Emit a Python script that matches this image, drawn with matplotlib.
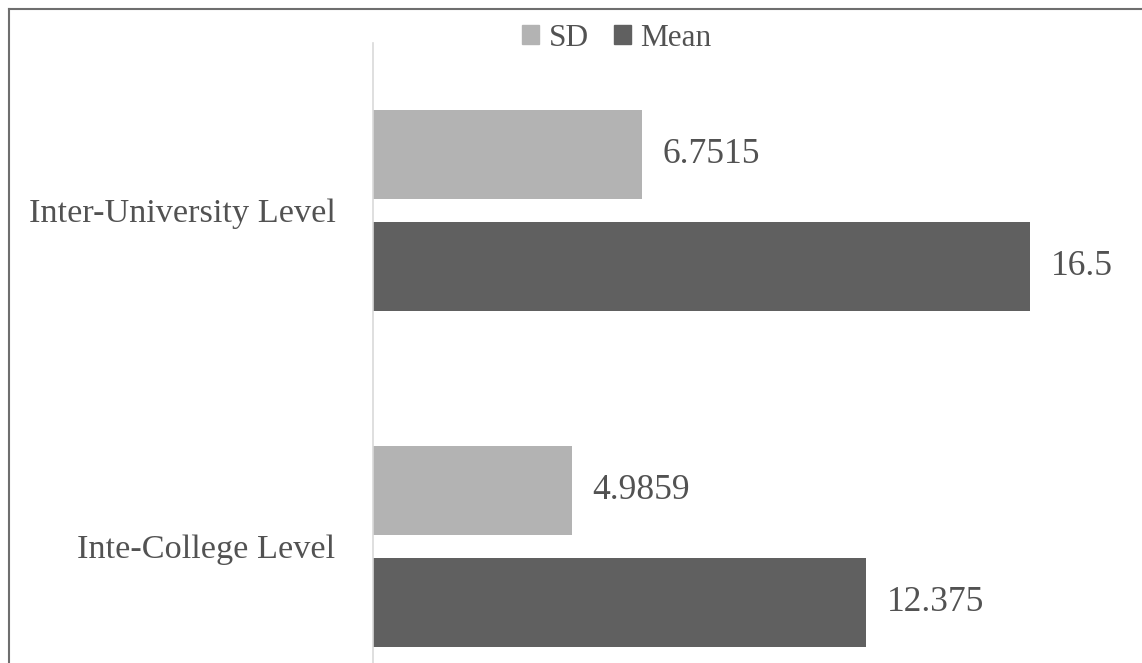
import matplotlib.pyplot as plt
from matplotlib.lines import Line2D
from matplotlib.patches import Patch

# data
categories = ['Inte-College Level', 'Inter-University Level']
sd_values = [4.9859, 6.7515]
mean_values = [12.375, 16.5]
sd_labels = ['4.9859', '6.7515']
mean_labels = ['12.375', '16.5']

sd_color = '#b3b3b3'
mean_color = '#606060'
text_color = '#525252'

plt.rcParams['font.family'] = ['Liberation Serif', 'DejaVu Serif']

W, H = 1142, 663
fig = plt.figure(figsize=(W / 100, H / 100), dpi=100)

# plot area (bottom part is cut off like in the source image)
left = 373 / W
top = 1 - 42.5 / H
height = 672 / H
ax = fig.add_axes([left, top - height, 1 - left, height])

ypos = list(range(len(categories)))
off = 0.1667
bh = 0.264
sd_y = [y + off for y in ypos]
mean_y = [y - off for y in ypos]

ax.barh(sd_y, sd_values, height=bh, color=sd_color, linewidth=0)
ax.barh(mean_y, mean_values, height=bh, color=mean_color, linewidth=0)

for v, y, lab in zip(sd_values, sd_y, sd_labels):
    ax.annotate(lab, (v, y), xytext=(15, 0), textcoords='offset points',
                ha='left', va='center', fontsize=25.5, color=text_color)
for v, y, lab in zip(mean_values, mean_y, mean_labels):
    ax.annotate(lab, (v, y), xytext=(15, 0), textcoords='offset points',
                ha='left', va='center', fontsize=25.5, color=text_color)

ax.set_xlim(0, (W - 373) / 39.82)
ax.set_ylim(-0.5, 1.5)
ax.set_yticks(ypos)
ax.set_yticklabels(categories, fontsize=24.7, color=text_color)
ax.tick_params(axis='y', length=0, pad=27)
ax.set_xticks([])
for s in ['top', 'right', 'bottom']:
    ax.spines[s].set_visible(False)
ax.spines['left'].set_color('#d9d9d9')
ax.spines['left'].set_linewidth(1.2)

handles = [Patch(color=sd_color, label='SD'), Patch(color=mean_color, label='Mean')]
fig.legend(handles=handles, loc='center', bbox_to_anchor=(617 / W, 1 - 38 / H),
           ncol=2, frameon=False, fontsize=22.5, labelcolor=text_color,
           handlelength=0.55, handleheight=0.55, handletextpad=0.3,
           columnspacing=0.8, borderpad=0, borderaxespad=0)

# outer border (only top and left edges visible)
fig.add_artist(Line2D([9 / W, 1], [1 - 9 / H, 1 - 9 / H], color='#6e6e6e', lw=1.5,
                      transform=fig.transFigure))
fig.add_artist(Line2D([9 / W, 9 / W], [0, 1 - 9 / H], color='#6e6e6e', lw=1.5,
                      transform=fig.transFigure))

fig.savefig('out.png', dpi=100)
